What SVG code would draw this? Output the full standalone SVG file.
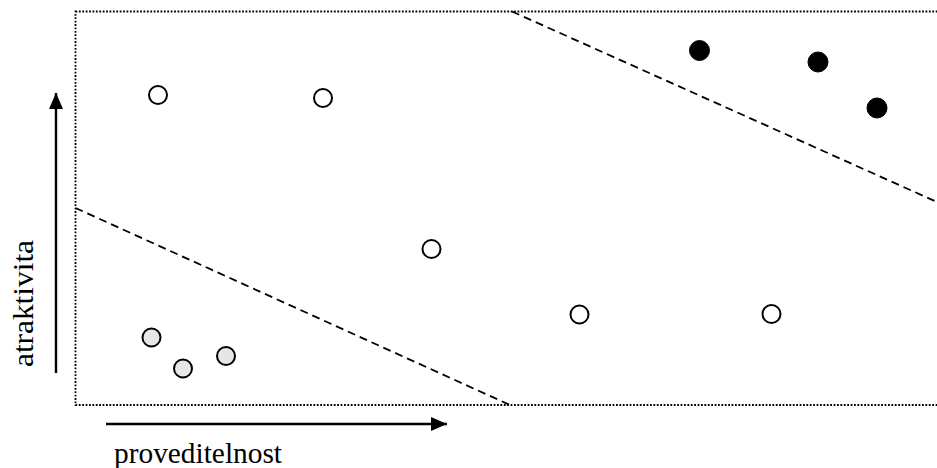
<svg xmlns="http://www.w3.org/2000/svg" width="937" height="468" viewBox="0 0 937 468">
<defs>
<marker id="ah" viewBox="0 0 16 14" refX="16" refY="7" markerWidth="16" markerHeight="14" markerUnits="userSpaceOnUse" orient="auto">
<path d="M0,0 L16,7 L0,14 z" fill="#000"/>
</marker>
<style>
.border{fill:none;stroke:#000;stroke-width:1.8;stroke-dasharray:1.8 1.6}
.dash{fill:none;stroke:#000;stroke-width:1.8;stroke-dasharray:8 5}
.axis{fill:none;stroke:#000;stroke-width:2.4}
.open{fill:#fff;stroke:#000;stroke-width:2}
.gray{fill:#e6e6e6;stroke:#000;stroke-width:2}
.black{fill:#000;stroke:#000;stroke-width:1}
.lbl{font-family:"Liberation Serif",serif;font-size:28.5px;fill:#000}
</style>
</defs>
<rect x="75.5" y="11.5" width="870" height="393.5" class="border"/>
<g id="connectors">
<line x1="512" y1="11.5" x2="937" y2="202" class="dash"/>
<line x1="75.5" y1="208" x2="510" y2="405" class="dash"/>
<line x1="56" y1="373" x2="56" y2="93" class="axis" marker-end="url(#ah)"/>
<line x1="106" y1="424" x2="447" y2="424" class="axis" marker-end="url(#ah)"/>
</g>
<g id="labels">
<text class="lbl" x="114" y="463" textLength="168" lengthAdjust="spacingAndGlyphs">proveditelnost</text>
<text class="lbl" transform="translate(33,367) rotate(-90)" textLength="127" lengthAdjust="spacingAndGlyphs">atraktivita</text>
</g>
<g id="o1"><circle cx="158" cy="95" r="9" class="open"/></g>
<g id="o2"><circle cx="323" cy="98" r="9" class="open"/></g>
<g id="o3"><circle cx="431.5" cy="249" r="9" class="open"/></g>
<g id="o4"><circle cx="579.5" cy="314.5" r="9" class="open"/></g>
<g id="o5"><circle cx="771.5" cy="314" r="9" class="open"/></g>
<g id="b1"><circle cx="699.5" cy="50.5" r="10" class="black"/></g>
<g id="b2"><circle cx="818" cy="62" r="10" class="black"/></g>
<g id="b3"><circle cx="877" cy="108" r="10" class="black"/></g>
<g id="g1"><circle cx="151.5" cy="337.5" r="9" class="gray"/></g>
<g id="g2"><circle cx="183" cy="368.5" r="9" class="gray"/></g>
<g id="g3"><circle cx="226" cy="356" r="9" class="gray"/></g>
</svg>
